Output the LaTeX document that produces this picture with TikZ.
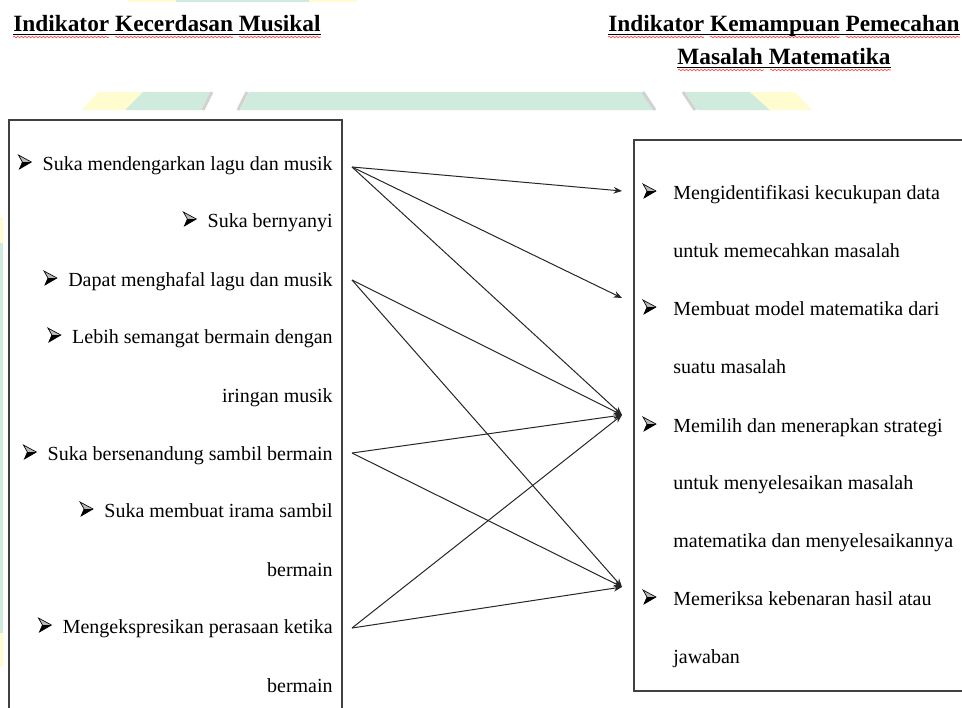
\documentclass[tikz,border=0pt]{standalone}
\usepackage{fontspec}
\setmainfont{Liberation Serif}
\usepackage{xcolor}
\usetikzlibrary{arrows.meta, decorations.pathmorphing}

\definecolor{wmgreen}{RGB}{207,235,221}
\definecolor{wmyellow}{RGB}{255,252,208}
\definecolor{wmgray}{RGB}{210,210,210}
\newcommand{\lgap}{\makebox[14.4pt]{}}
\newcommand{\rgap}{\makebox[18pt]{}}

\begin{document}
\begin{tikzpicture}[x=0.6pt, y=-0.6pt, >={Stealth[length=5pt, width=4pt]},
  every node/.style={inner sep=0pt, font=\fontsize{12}{14}\selectfont},
  head/.style={font=\fontsize{14}{17}\selectfont\bfseries},
  lefttxt/.style={anchor=base east},
  righttxt/.style={anchor=base west},
  box/.style={draw=black!75, line width=0.8pt},
  link/.style={->, line width=0.6pt, black!85},
  wavy/.style={red!70, line width=0.4pt, decorate,
    decoration={snake, amplitude=0.45pt, segment length=2.2pt}},
  arrowbul/.pic={
    \fill[gray!55] (0,-15) -- (13,-8) -- (4,-8) -- cycle;
    \fill[black] (4,-8) -- (13,-8) -- (1,-1) -- cycle;
    \draw[black, line width=0.4pt, line join=miter] (0,-15) -- (13,-8) -- (1,-1) -- (4,-8) -- cycle;
  }]
  \useasboundingbox (0,0) rectangle (962,707);
  \clip (0,0) rectangle (962,707);

  % watermark remains
  \fill[wmyellow] (128,0) rectangle (176,1.5);
  \fill[wmgreen]  (176,0) rectangle (309,1.5);
  \fill[wmyellow] (309,0) rectangle (357,1.5);
  \fill[wmyellow] (82,110) -- (98,92) -- (143,92) -- (125,110) -- cycle;
  \fill[wmgreen]  (125,110) -- (143,92) -- (212,92) -- (203,110) -- cycle;
  \fill[wmgreen]  (240,110) -- (249,92) -- (643,92) -- (655,110) -- cycle;
  \fill[wmgreen]  (685,92) -- (750,92) -- (770,110) -- (697,110) -- cycle;
  \fill[wmyellow] (750,92) -- (795,92) -- (812,110) -- (770,110) -- cycle;
  \draw[wmgray, line width=1.8pt] (203,110) -- (212,92);
  \draw[wmgray, line width=1.8pt] (238,110) -- (247,92);
  \draw[wmgray, line width=1.8pt] (643,92) -- (655,110);
  \draw[wmgray, line width=1.8pt] (683,92) -- (695,110);
  \fill[wmyellow] (0,217) rectangle (2.5,243);
  \fill[wmgreen]  (0,243) rectangle (2.5,633);
  \fill[wmyellow] (0,633) rectangle (2.5,667);

  % headings
  \node[head, anchor=base west] (hl) at (13,31) {Indikator Kecerdasan Musikal};
  \node[head, anchor=base] (hr1) at (784,31) {Indikator Kemampuan Pemecahan};
  \node[head, anchor=base] (hr2) at (784,64) {Masalah Matematika};
  \draw[line width=0.8pt] ([yshift=-2pt]hl.base west) -- ([yshift=-2pt]hl.base east);
  \draw[line width=0.8pt] ([yshift=-2pt]hr1.base west) -- ([yshift=-2pt]hr1.base east);
  \draw[line width=0.8pt] ([yshift=-2pt]hr2.base west) -- ([yshift=-2pt]hr2.base east);
  \foreach \a/\b/\y in {13/109/37, 115/233/37, 239/321/37, 608/704/37, 710/840/37,
      846/960/37, 678/764/70, 770/891/70}
    \draw[wavy] (\a,\y) -- (\b,\y);

  % frames
  \draw[box] (9,120) rectangle (342,730);
  \draw[box] (634,140) rectangle (980,691);

  % musical intelligence indicators
  \node[lefttxt] (l1)  at (333,170) {\lgap Suka mendengarkan lagu dan musik};
  \node[lefttxt] (l2)  at (333,227) {\lgap Suka bernyanyi};
  \node[lefttxt] (l3)  at (333,286) {\lgap Dapat menghafal lagu dan musik};
  \node[lefttxt] (l4)  at (333,343) {\lgap Lebih semangat bermain dengan};
  \node[lefttxt] (l5)  at (333,402) {iringan musik};
  \node[lefttxt] (l6)  at (333,460) {\lgap Suka bersenandung sambil bermain};
  \node[lefttxt] (l7)  at (333,517) {\lgap Suka membuat irama sambil};
  \node[lefttxt] (l8)  at (333,576) {bermain};
  \node[lefttxt] (l9)  at (333,633) {\lgap Mengekspresikan perasaan ketika};
  \node[lefttxt] (l10) at (333,692) {bermain};
  \foreach \n in {l1,l2,l3,l4,l6,l7,l9}
    \pic at (\n.base west) {arrowbul};

  % problem solving indicators
  \node[righttxt] (r1) at (643,199) {\rgap Mengidentifikasi kecukupan data};
  \node[righttxt] (r2) at (673,257) {untuk memecahkan masalah};
  \node[righttxt] (r3) at (643,315) {\rgap Membuat model matematika dari};
  \node[righttxt] (r4) at (673,373) {suatu masalah};
  \node[righttxt] (r5) at (643,432) {\rgap Memilih dan menerapkan strategi};
  \node[righttxt] (r6) at (673,489) {untuk menyelesaikan masalah};
  \node[righttxt] (r7) at (673,547) {matematika dan menyelesaikannya};
  \node[righttxt] (r8) at (643,605) {\rgap Memeriksa kebenaran hasil atau};
  \node[righttxt] (r9) at (673,663) {jawaban};
  \foreach \n in {r1,r3,r5,r8}
    \pic at (\n.base west) {arrowbul};

  % connectors
  \coordinate (s1) at (352,167);
  \coordinate (s2) at (352,280);
  \coordinate (s3) at (352,453);
  \coordinate (s4) at (352,628);
  \coordinate (t1) at (622,191);
  \coordinate (t2) at (622,298);
  \coordinate (t3) at (622,415);
  \coordinate (t4) at (622,587);
  \draw[link] (s1) -- (t1);
  \draw[link] (s1) -- (t2);
  \draw[link] (s1) -- (t3);
  \draw[link] (s2) -- (t3);
  \draw[link] (s2) -- (t4);
  \draw[link] (s3) -- (t3);
  \draw[link] (s3) -- (t4);
  \draw[link] (s4) -- (t3);
  \draw[link] (s4) -- (t4);
\end{tikzpicture}
\end{document}
